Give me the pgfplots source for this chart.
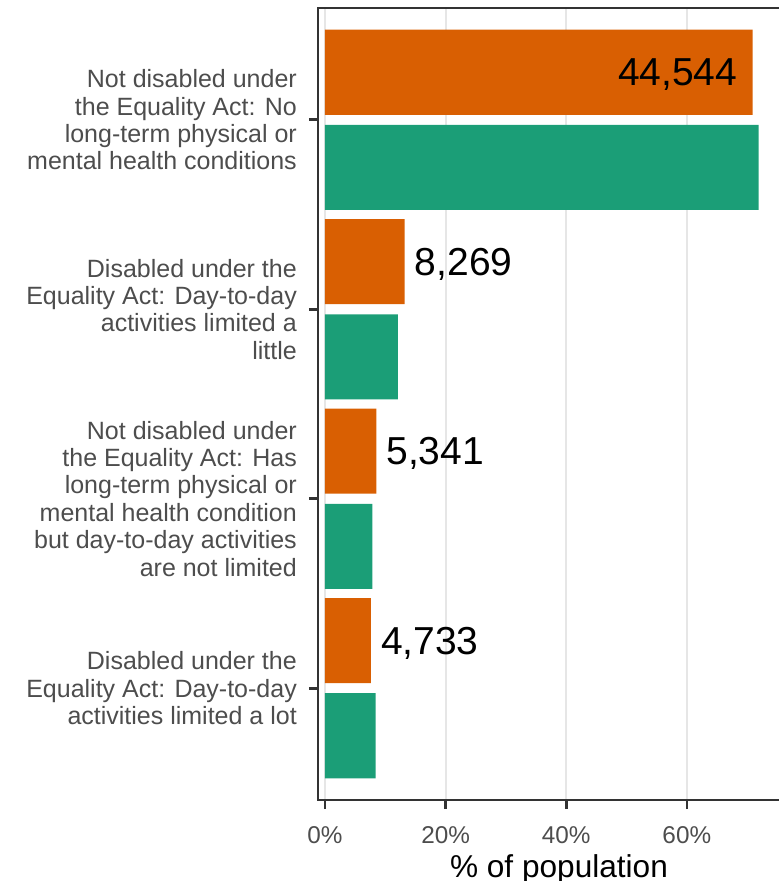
\documentclass[border=0pt]{standalone}
\usepackage{pgfplots}
\pgfplotsset{compat=1.18}
\usepackage{fontspec}
\setmainfont{Liberation Sans}
\definecolor{dorange}{HTML}{D95F02}
\definecolor{dteal}{HTML}{1B9E77}
\definecolor{gridc}{HTML}{E6E6E6}
\definecolor{axc}{HTML}{333333}
\definecolor{labc}{HTML}{4D4D4D}
\begin{document}
\begin{tikzpicture}[x=1pt,y=1pt]
\useasboundingbox (0,0) rectangle (779,881);
\clip (0,0) rectangle (779,881);
\begin{axis}[
  at={(318pt,81pt)}, anchor=south west,
  scale only axis, width=482pt, height=792pt,
  xbar, bar shift=0pt, bar width=0.449,
  xmin=-1.16, xmax=78.77, ymin=0.41, ymax=4.59, y dir=reverse,
  xtick={0,20,40,60}, xticklabels={0\%,20\%,40\%,60\%},
  ytick={1,2,3,4},
  yticklabels={{Not disabled under\\the Equality Act: No\\long-term physical or\\mental health conditions},
               {Disabled under the\\Equality Act: Day-to-day\\activities limited a\\little},
               {Not disabled under\\the Equality Act: Has\\long-term physical or\\mental health condition\\but day-to-day activities\\are not limited},
               {Disabled under the\\Equality Act: Day-to-day\\activities limited a lot}},
  xmajorgrids, major grid style={gridc, line width=2.2pt},
  axis line style={axc, line width=1.4pt},
  tick style={axc, line width=2.6pt}, tick align=outside, major tick length=9pt,
  xtick pos=bottom, ytick pos=left,
  yticklabel style={font=\fontsize{25}{27.4}\selectfont, text=labc, align=right, inner sep=0pt, xshift=-12pt},
  xticklabel style={font=\fontsize{24.3}{29}\selectfont, text=labc, inner sep=0pt, yshift=-17pt},
  xlabel={\% of population},
  xlabel style={font=\fontsize{31.6}{38}\selectfont, text=black, at={(axis description cs:0.5,0)}, anchor=base, yshift=-77pt, inner sep=0pt},
]
\addplot[fill=dorange, draw=none,
  nodes near coords={\pgfplotspointmeta}, point meta=explicit symbolic,
  visualization depends on={value \thisrow{anc} \as \labanc},
  visualization depends on={\thisrow{dx} \as \labdx},
  nodes near coords style={anchor=\labanc, xshift=\labdx pt, font=\fontsize{39}{45}\selectfont, text=black, inner sep=0pt, text height=27pt, text depth=0pt}]
  table[x=x, y=y, meta=lab] {
x y lab anc dx
70.9 0.749 44,544 east -15
13.2 1.749 8,269 west 10
8.5 2.749 5,341 west 10
7.6 3.749 4,733 west 10
};
\addplot[fill=dteal, draw=none] table[x=x, y=y] {
x y
71.9 1.251
12.1 2.251
7.85 3.251
8.4 4.251
};
\end{axis}
\end{tikzpicture}
\end{document}
